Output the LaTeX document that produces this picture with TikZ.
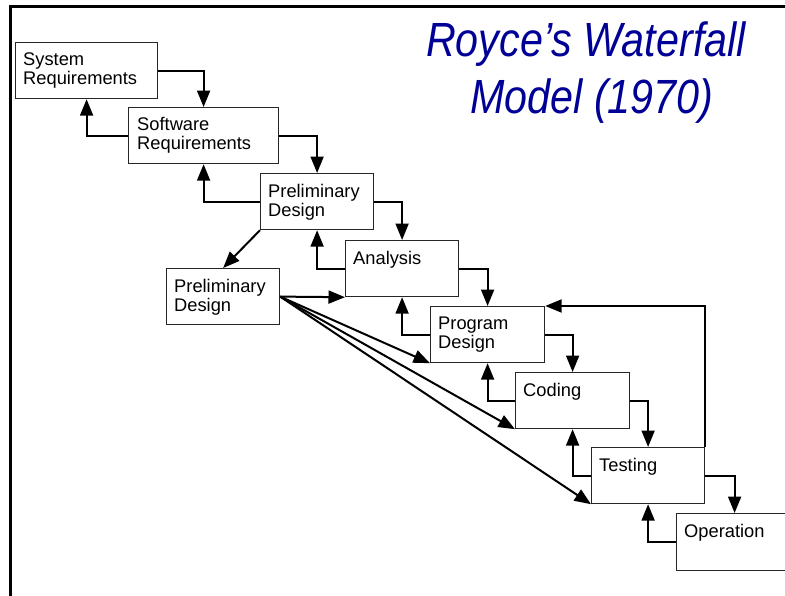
\documentclass[tikz,border=0pt]{standalone}
\usepackage{fontspec}
\setmainfont{Liberation Sans}
\usepackage{graphicx}
\usetikzlibrary{arrows.meta}
\definecolor{titleblue}{RGB}{0,0,150}
\begin{document}
\begin{tikzpicture}[x=1pt,y=-1pt,
  box/.style={draw=black!85, line width=1.2pt, rectangle, anchor=north west, inner sep=0pt, minimum height=56pt},
  lbl/.style={anchor=north west, inner sep=0pt, align=left, font=\fontsize{18.3}{19}\selectfont},
  conn/.style={line width=2pt, -{Triangle[length=16.5pt,width=13pt]}},
  ttl/.style={anchor=base, inner sep=0pt, text=titleblue, font=\fontsize{48}{57}\selectfont\itshape}]
\useasboundingbox (0,0) rectangle (785,595);
\clip (0,0) rectangle (785,595);
% frame
\draw[line width=3pt] (10,600) -- (10,6.3) -- (790,6.3);
% title
\node[ttl] (title1) at (586,56) {\scalebox{0.86}[1]{Royce’s Waterfall}};
\node[ttl] (title2) at (592,113) {\scalebox{0.86}[1]{Model (1970)}};
% boxes
\node[box, minimum width=142pt] (sys) at (15,42) {};
\node[box, minimum width=150pt] (soft) at (128,107) {};
\node[box, minimum width=113pt] (pd1) at (260,173) {};
\node[box, minimum width=113pt] (ana) at (345,240) {};
\node[box, minimum width=113pt] (pd2) at (166,268) {};
\node[box, minimum width=114pt] (prog) at (430,306) {};
\node[box, minimum width=114pt] (cod) at (515,372) {};
\node[box, minimum width=113pt] (test) at (591,447) {};
\node[box, minimum width=116pt, minimum height=57pt] (op) at (676,513) {};
% labels
\node[lbl] (sysT) at ([xshift=8pt,yshift=-10.5pt]sys.north west) {System\\Requirements};
\node[lbl] (softT) at ([xshift=9pt,yshift=-10.5pt]soft.north west) {Software\\Requirements};
\node[lbl] (pd1T) at ([xshift=8pt,yshift=-11pt]pd1.north west) {Preliminary\\Design};
\node[lbl] (anaT) at ([xshift=8pt,yshift=-11pt]ana.north west) {Analysis};
\node[lbl] (pd2T) at ([xshift=8pt,yshift=-11pt]pd2.north west) {Preliminary\\Design};
\node[lbl] (progT) at ([xshift=8pt,yshift=-11pt]prog.north west) {Program\\Design};
\node[lbl] (codT) at ([xshift=8pt,yshift=-11pt]cod.north west) {Coding};
\node[lbl] (testT) at ([xshift=8pt,yshift=-11pt]test.north west) {Testing};
\node[lbl] (opT) at ([xshift=8pt,yshift=-11pt]op.north west) {Operation};
% forward connectors
\draw[conn] (sys.east) -| (soft.north);
\draw[conn] (soft.east) -| (pd1.north);
\draw[conn] (pd1.east) -| (ana.north);
\draw[conn] (ana.east) -| (prog.north);
\draw[conn] (prog.east) -| (cod.north);
\draw[conn] (cod.east) -| (test.north);
\draw[conn] (test.east) -| (op.north);
% feedback connectors
\draw[conn] (soft.west) -| (sys.south);
\draw[conn] (pd1.west) -| (soft.south);
\draw[conn] (ana.west) -| (pd1.south);
\draw[conn] (prog.west) -| (ana.south);
\draw[conn] (cod.west) -| (prog.south);
\draw[conn] (test.west) -| (cod.south);
\draw[conn] (op.west) -| (test.south);
\draw[conn] (test.north east) |- (prog.north east);
% second preliminary design
\draw[conn] (pd1.south west) -- (pd2.north);
\draw[conn] (pd2.east) -- (ana.south west);
\draw[conn] (pd2.east) -- (prog.south west);
\draw[conn] (pd2.east) -- (cod.south west);
\draw[conn] (pd2.east) -- (test.south west);
\end{tikzpicture}
\end{document}
